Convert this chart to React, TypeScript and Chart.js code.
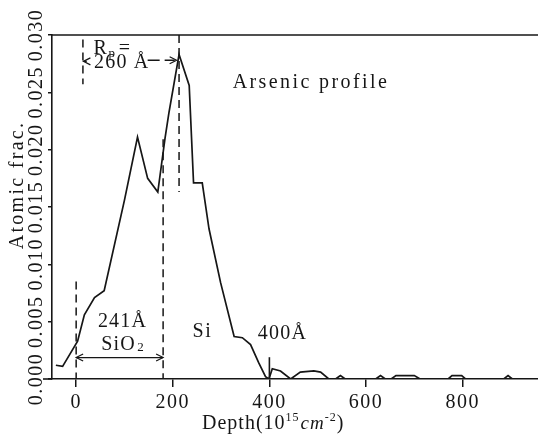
import React, { useEffect, useRef } from "react";
import { Chart, registerables } from "chart.js";

Chart.register(...registerables);

// ---- data ----
const depths = [-42, -28, 3, 17, 38, 58, 100, 127, 148, 169, 184, 192, 213, 234, 243, 261, 275, 299, 327, 344, 361, 378, 392, 399, 406, 423, 444, 464, 492, 506, 523, 537, 547, 557, 620, 630, 640, 652, 662, 700, 712, 770, 778, 798, 806, 885, 894, 903, 956];
const fracs = [0.0012, 0.0011, 0.0033, 0.0056, 0.0071, 0.0077, 0.0156, 0.0211, 0.0175, 0.0163, 0.0210, 0.0232, 0.0283, 0.0256, 0.0171, 0.0171, 0.0131, 0.0084, 0.0037, 0.0036, 0.0030, 0.0014, 0.0002, 0.0, 0.0009, 0.0007, 0.0, 0.0006, 0.0007, 0.0006, 0.0, 0.0, 0.0003, 0.0, 0.0, 0.0003, 0.0, 0.0, 0.0003, 0.0003, 0.0, 0.0, 0.0003, 0.0003, 0.0, 0.0, 0.0003, 0.0, 0.0];

const xTicks = [0, 200, 400, 600, 800];
const yTicks = [0, 0.005, 0.01, 0.015, 0.02, 0.025, 0.03];
const xRange = [-50, 956];
const yRange = [0, 0.03];

// annotation lines (depth, from frac, to frac)
const dashedDepths = [0, 180, 213, 14];
const dashedFrom = [0, 0, 0.0163, 0.0257];
const dashedTo = [0.0085, 0.0209, 0.03, 0.0296];

const INK = "#161616";
const FONT = "'Liberation Serif', 'DejaVu Serif', serif";

const annotPlugin = {
  id: "annot",
  afterDraw(chart: any) {
    const { ctx, chartArea } = chart;
    const xs = chart.scales.x;
    const ys = chart.scales.y;
    const X = (v: number) => xs.getPixelForValue(v);
    const Y = (v: number) => ys.getPixelForValue(v);
    ctx.save();
    ctx.strokeStyle = INK;
    ctx.fillStyle = INK;
    ctx.lineWidth = 1.6;
    const line = (x1: number, y1: number, x2: number, y2: number) => {
      ctx.beginPath();
      ctx.moveTo(x1, y1);
      ctx.lineTo(x2, y2);
      ctx.stroke();
    };
    // frame top + axis extension
    line(chartArea.left, chartArea.top, chartArea.right, chartArea.top);
    line(chartArea.left - 9, chartArea.bottom, chartArea.left, chartArea.bottom);

    // dashed verticals
    ctx.lineWidth = 1.5;
    ctx.setLineDash([8, 5]);
    for (let i = 0; i < dashedDepths.length; i++) {
      line(X(dashedDepths[i]), Y(dashedTo[i]), X(dashedDepths[i]), Y(dashedFrom[i]));
    }
    // dashed arrow to peak
    ctx.setLineDash([12, 5]);
    line(X(148), Y(0.0278), X(204), Y(0.0278));
    ctx.setLineDash([]);
    const head = (xp: number, yp: number, dir: number) => {
      ctx.beginPath();
      ctx.moveTo(xp - dir * 7, yp - 3.5);
      ctx.lineTo(xp, yp);
      ctx.lineTo(xp - dir * 7, yp + 3.5);
      ctx.stroke();
    };
    ctx.lineWidth = 1.2;
    head(X(208), Y(0.0278), 1);
    // small left arrow at Rp start
    line(X(15), Y(0.0277), X(22), Y(0.0277));
    head(X(15), Y(0.0277), -1);
    // SiO2 double arrow
    line(X(0), Y(0.00187), X(180), Y(0.00187));
    head(X(0), Y(0.00187), -1);
    head(X(180), Y(0.00187), 1);
    // 400 marker
    ctx.lineWidth = 1.6;
    line(X(400), Y(0.0019), X(400), Y(0));

    // texts
    const txt = (s: string, d: number, v: number, size = 20, spacing = 1.5, align: any = "left") => {
      ctx.font = `${size}px ${FONT}`;
      (ctx as any).letterSpacing = `${spacing}px`;
      ctx.textAlign = align;
      ctx.textBaseline = "alphabetic";
      ctx.fillText(s, X(d), Y(v));
    };
    txt("Arsenic profile", 324, 0.0254, 20, 2.4);
    txt("R", 36, 0.0283, 20, 1);
    ctx.font = `13px ${FONT}`;
    ctx.fillText("p", X(36) + 15, Y(0.0283) + 3);
    txt("=", 36 + 52, 0.0283, 20, 1);
    txt("260 Å", 37, 0.0271, 20, 1.2);
    txt("241Å", 45, 0.0045, 20, 1.2);
    txt("SiO", 52, 0.0025, 20, 1.2);
    ctx.font = `13px ${FONT}`;
    ctx.fillText("2", X(52) + 36, Y(0.0025) + 1);
    txt("Si", 241, 0.0037, 20, 1.5);
    txt("400Å", 376, 0.00345, 20, 1.2);

    // tick labels
    ctx.font = `20px ${FONT}`;
    (ctx as any).letterSpacing = "1.5px";
    ctx.textAlign = "center";
    ctx.textBaseline = "alphabetic";
    for (const t of xTicks) ctx.fillText(String(t), X(t), 408);
    for (const t of yTicks) {
      ctx.save();
      ctx.translate(37, Y(t));
      ctx.rotate(-Math.PI / 2);
      ctx.textBaseline = "middle";
      ctx.fillText(t.toFixed(3), 0, 0);
      ctx.restore();
    }
    // axis titles
    ctx.save();
    ctx.translate(18, 185);
    ctx.rotate(-Math.PI / 2);
    (ctx as any).letterSpacing = "2.3px";
    ctx.textBaseline = "middle";
    ctx.textAlign = "center";
    ctx.fillText("Atomic frac.", 0, 0);
    ctx.restore();

    (ctx as any).letterSpacing = "1px";
    ctx.textAlign = "left";
    let cx = 202;
    const base = 429;
    const piece = (s: string, size: number, dy: number, italic = false) => {
      ctx.font = `${italic ? "italic " : ""}${size}px ${FONT}`;
      ctx.fillText(s, cx, base + dy);
      cx += ctx.measureText(s).width;
    };
    piece("Depth(10", 20, 0);
    piece("15", 12, -8);
    cx += 1;
    piece("cm", 19, 0, true);
    piece("-2", 12, -8);
    piece(")", 20, 0);
    ctx.restore();
  },
};

export default function App() {
  const ref = useRef<HTMLCanvasElement | null>(null);
  useEffect(() => {
    document.body.style.margin = "0";
    const canvas = ref.current!;
    const chart = new Chart(canvas, {
      type: "scatter",
      data: {
        datasets: [
          {
            data: depths.map((d, i) => ({ x: d, y: fracs[i] })),
            showLine: true,
            borderColor: INK,
            borderWidth: 1.7,
            pointRadius: 0,
            tension: 0,
          },
        ],
      },
      options: {
        animation: false,
        responsive: false,
        devicePixelRatio: 1,
        layout: { padding: { top: 35, right: 0, left: 0, bottom: 0 } },
        plugins: { legend: { display: false }, tooltip: { enabled: false } },
        scales: {
          x: {
            type: "linear",
            min: xRange[0],
            max: xRange[1],
            afterBuildTicks: (s: any) => {
              s.ticks = xTicks.map((v) => ({ value: v }));
            },
            afterFit: (s: any) => {
              s.height = 57;
            },
            ticks: { display: false },
            grid: { display: true, drawOnChartArea: false, drawTicks: true, tickLength: 8, color: INK, lineWidth: 1.5 },
            border: { display: true, color: INK, width: 1.6 },
          },
          y: {
            type: "linear",
            min: yRange[0],
            max: yRange[1],
            afterBuildTicks: (s: any) => {
              s.ticks = yTicks.map((v) => ({ value: v }));
            },
            afterFit: (s: any) => {
              s.width = 52;
            },
            ticks: { display: false },
            grid: { display: true, drawOnChartArea: false, drawTicks: true, tickLength: 4, color: INK, lineWidth: 1.5 },
            border: { display: true, color: INK, width: 1.6 },
          },
        },
      },
      plugins: [annotPlugin],
    });
    return () => chart.destroy();
  }, []);
  return (
    <div style={{ position: "fixed", left: 0, top: 0, width: 538, height: 436, background: "#fff" }}>
      <canvas ref={ref} width={538} height={436} />
    </div>
  );
}
